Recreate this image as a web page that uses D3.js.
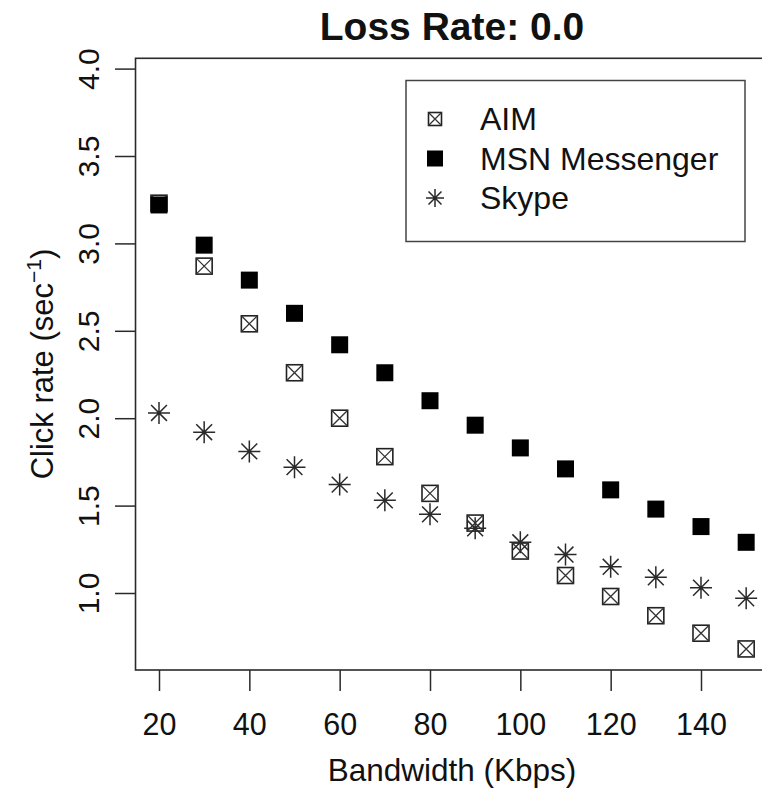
<!DOCTYPE html>
<html>
<head>
<meta charset="utf-8">
<script src="https://cdn.jsdelivr.net/npm/d3@7"></script>
<style>
  html, body { margin: 0; padding: 0; background: #fff; }
  svg text { font-family: "Liberation Sans", Arial, sans-serif; fill: #111; }
</style>
</head>
<body>
<svg id="chart" width="762" height="790"></svg>
<script>
// ---- data ----
const bandwidth = [20, 30, 40, 50, 60, 70, 80, 90, 100, 110, 120, 130, 140, 150];
const aim   = [3.23, 2.87, 2.54, 2.26, 2.00, 1.78, 1.57, 1.40, 1.24, 1.10, 0.98, 0.87, 0.77, 0.68];
const msn   = [3.22, 2.99, 2.79, 2.60, 2.42, 2.26, 2.10, 1.96, 1.83, 1.71, 1.59, 1.48, 1.38, 1.29];
const skype = [2.03, 1.92, 1.81, 1.72, 1.62, 1.53, 1.45, 1.37, 1.29, 1.22, 1.15, 1.09, 1.03, 0.97];
const seriesNames = ["AIM", "MSN Messenger", "Skype"];
const xTicks = [20, 40, 60, 80, 100, 120, 140];
const yTicks = [1.0, 1.5, 2.0, 2.5, 3.0, 3.5, 4.0];
const titleText = "Loss Rate: 0.0";
const xTitle = "Bandwidth (Kbps)";

const svg = d3.select("#chart");

const x = d3.scaleLinear().domain([20, 140]).range([159, 701]);
const y = d3.scaleLinear().domain([1, 4]).range([593, 68.6]);
const xLim = [14.8, 155.2];
const yLim = [y.invert(670), y.invert(58.3)];

const ink = "#1a1a1a";

// plot box
svg.append("rect")
  .attr("x", x(xLim[0])).attr("y", y(yLim[1]))
  .attr("width", x(xLim[1]) - x(xLim[0]))
  .attr("height", y(yLim[0]) - y(yLim[1]))
  .attr("fill", "none").attr("stroke", "#2a2a2a").attr("stroke-width", 1.6);

// x axis
const xAxis = d3.axisBottom(x).tickValues(xTicks).tickSize(21).tickPadding(22)
  .tickFormat(d3.format("d"));
const gx = svg.append("g").attr("transform", `translate(0,670)`).call(xAxis);
gx.select(".domain").remove();
gx.selectAll(".tick line").attr("stroke", "#2a2a2a").attr("stroke-width", 1.5);
gx.selectAll(".tick text").attr("font-size", 30.5).attr("fill", ink)
  .attr("font-family", "Liberation Sans, Arial, sans-serif")
  .attr("dy", null).attr("y", 65);

// y axis
const yAxis = d3.axisLeft(y).tickValues(yTicks).tickSize(20).tickFormat(d3.format(".1f"));
const gy = svg.append("g").attr("transform", `translate(135,0)`).call(yAxis);
gy.select(".domain").remove();
gy.selectAll(".tick line").attr("stroke", "#2a2a2a").attr("stroke-width", 1.5);
gy.selectAll(".tick text")
  .attr("font-size", 30).attr("fill", ink)
  .attr("font-family", "Liberation Sans, Arial, sans-serif")
  .attr("x", null).attr("dy", null)
  .attr("text-anchor", "middle")
  .attr("transform", "translate(-36,0) rotate(-90)");

// titles
svg.append("text").attr("x", 452).attr("y", 40).attr("text-anchor", "middle")
  .attr("font-size", 39).attr("font-weight", "bold").text(titleText);
svg.append("text").attr("x", 452).attr("y", 781).attr("text-anchor", "middle")
  .attr("font-size", 31.5).text(xTitle);
const yt = svg.append("text").attr("text-anchor", "middle")
  .attr("transform", "translate(53,364) rotate(-90)").attr("font-size", 31);
yt.append("tspan").text("Click rate (sec");
yt.append("tspan").attr("font-size", 21).attr("dy", -12).text("\u22121");
yt.append("tspan").attr("dy", 12).text(")");

// marker drawers
function drawAIM(g, cx, cy, s) {
  const h = s / 2;
  g.append("rect").attr("x", cx - h).attr("y", cy - h).attr("width", s).attr("height", s)
    .attr("fill", "none").attr("stroke", "#222").attr("stroke-width", 1.6);
  g.append("path").attr("d", `M${cx - h},${cy - h}L${cx + h},${cy + h}M${cx + h},${cy - h}L${cx - h},${cy + h}`)
    .attr("stroke", "#333").attr("stroke-width", 1.3);
}
function drawMSN(g, cx, cy, s) {
  g.append("rect").attr("x", cx - s / 2).attr("y", cy - s / 2).attr("width", s).attr("height", s)
    .attr("fill", "#000");
}
function drawSkype(g, cx, cy, s) {
  const h = s / 2, d = h * 0.72;
  g.append("path")
    .attr("d", `M${cx - h},${cy}L${cx + h},${cy}M${cx},${cy - h}L${cx},${cy + h}` +
               `M${cx - d},${cy - d}L${cx + d},${cy + d}M${cx + d},${cy - d}L${cx - d},${cy + d}`)
    .attr("stroke", "#2a2a2a").attr("stroke-width", 1.5).attr("fill", "none");
}

const series = [
  { name: seriesNames[0], values: aim, draw: drawAIM, size: 16 },
  { name: seriesNames[1], values: msn, draw: drawMSN, size: 17 },
  { name: seriesNames[2], values: skype, draw: drawSkype, size: 22 }
];

const pts = svg.append("g");
series.forEach(s => {
  const g = pts.append("g").attr("class", "series");
  bandwidth.forEach((b, i) => s.draw(g, x(b), y(s.values[i]), s.size));
});

// legend
const lg = svg.append("g");
lg.append("rect").attr("x", 406).attr("y", 80.5).attr("width", 339).attr("height", 161)
  .attr("fill", "#fff").attr("stroke", "#444").attr("stroke-width", 1.5);
const legendSizes = [13, 16, 18];
const rowY = d3.scaleLinear().domain([0, 2]).range([119, 198]);
series.forEach((s, i) => {
  s.draw(lg, 435, rowY(i), legendSizes[i]);
  lg.append("text").attr("x", 480).attr("y", rowY(i) + 11).attr("font-size", 32).text(s.name);
});
</script>
</body>
</html>
